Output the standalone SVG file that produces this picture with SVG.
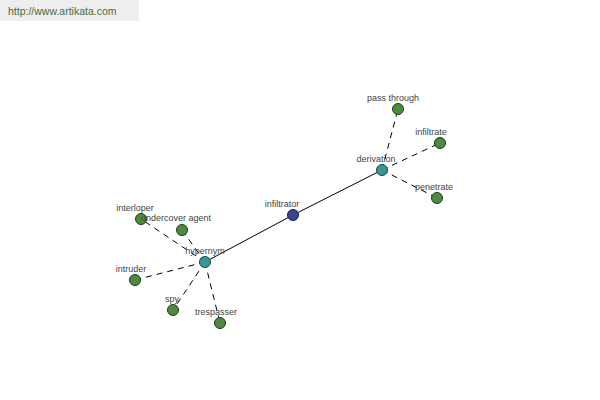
<svg xmlns="http://www.w3.org/2000/svg" width="600" height="400" viewBox="0 0 600 400">
<style>
text{font-family:"Liberation Sans",Arial,sans-serif;font-size:9px;fill:#444;text-anchor:middle}
.leaf{fill:#4e8a3e;stroke:#1e3a18;stroke-width:1}
.mid{fill:#3a9696;stroke:#1a4a4a;stroke-width:1}
.root{fill:#3b4490;stroke:#161c48;stroke-width:1}
.d{stroke:#000;stroke-width:1;stroke-dasharray:6,5;fill:none}
.s{stroke:#000;stroke-width:1;fill:none}
</style>
<rect x="0" y="0" width="139" height="21" fill="#eeeeee"/>
<text x="8" y="15" style="text-anchor:start;font-size:10.5px;fill:#4a6a3a">http://www.artikata.com</text>
<g id="connectors">
<line class="s" x1="205" y1="262" x2="293" y2="215"/>
<line class="s" x1="293" y1="215" x2="382" y2="170"/>
<line class="d" x1="382" y1="170" x2="398" y2="109"/>
<line class="d" x1="382" y1="170" x2="440" y2="143"/>
<line class="d" x1="382" y1="170" x2="437" y2="198"/>
<line class="d" x1="205" y1="262" x2="141" y2="219"/>
<line class="d" x1="205" y1="262" x2="182" y2="230"/>
<line class="d" x1="205" y1="262" x2="135" y2="280"/>
<line class="d" x1="205" y1="262" x2="173" y2="310"/>
<line class="d" x1="205" y1="262" x2="220" y2="323"/>
</g>
<g id="infiltrator"><circle class="root" cx="293" cy="215" r="5.5"/><text x="282" y="207">infiltrator</text></g>
<g id="derivation"><circle class="mid" cx="382" cy="170" r="5.5"/><text x="376" y="162">derivation</text></g>
<g id="hypernym"><circle class="mid" cx="205" cy="262" r="5.5"/><text x="205" y="254">hypernym</text></g>
<g id="pass-through"><circle class="leaf" cx="398" cy="109" r="5.5"/><text x="393" y="101">pass through</text></g>
<g id="infiltrate"><circle class="leaf" cx="440" cy="143" r="5.5"/><text x="431" y="135">infiltrate</text></g>
<g id="penetrate"><circle class="leaf" cx="437" cy="198" r="5.5"/><text x="434" y="190">penetrate</text></g>
<g id="interloper"><circle class="leaf" cx="141" cy="219" r="5.5"/><text x="135" y="211">interloper</text></g>
<g id="undercover-agent"><circle class="leaf" cx="182" cy="230" r="5.5"/><text x="176" y="221">undercover agent</text></g>
<g id="intruder"><circle class="leaf" cx="135" cy="280" r="5.5"/><text x="131" y="272">intruder</text></g>
<g id="spy"><circle class="leaf" cx="173" cy="310" r="5.5"/><text x="172" y="302">spy</text></g>
<g id="trespasser"><circle class="leaf" cx="220" cy="323" r="5.5"/><text x="216" y="315">trespasser</text></g>
</svg>
